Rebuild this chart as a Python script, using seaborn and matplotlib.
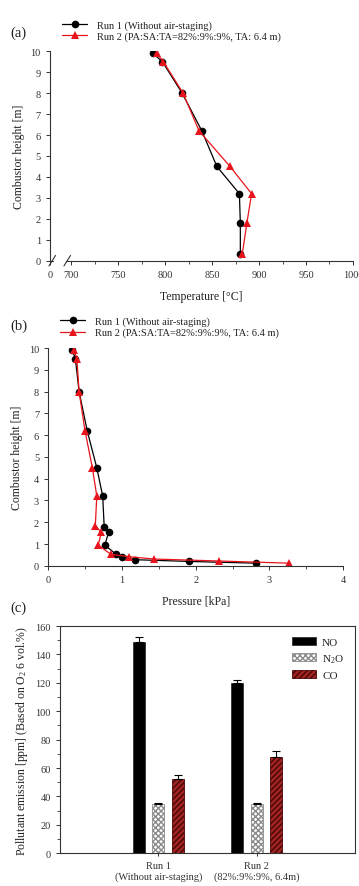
import numpy as np
import pandas as pd
import matplotlib
matplotlib.use("Agg")
import matplotlib.pyplot as plt
from matplotlib.ticker import MultipleLocator, FixedLocator
import seaborn as sns

# Panel (a): temperature profile
temp_height = [9.9, 9.5, 8.0, 6.2, 4.5, 3.2, 1.8, 0.3]
temp_run1 = [787, 797, 818, 839, 855, 879, 880, 880]
temp_run2 = [791, 798, 819, 836, 869, 892, 887, 882]

# Panel (b): pressure profile
pres_height1 = [9.9, 9.5, 8.0, 6.2, 4.5, 3.2, 1.8, 1.55, 0.95, 0.53, 0.4, 0.28, 0.2, 0.12]
pres_run1 = [0.33, 0.37, 0.42, 0.53, 0.66, 0.74, 0.76, 0.82, 0.77, 0.92, 1.0, 1.18, 1.91, 2.82]
pres_height2 = [9.9, 9.5, 8.0, 6.2, 4.5, 3.2, 1.85, 1.53, 0.95, 0.53, 0.42, 0.31, 0.22, 0.12]
pres_run2 = [0.35, 0.39, 0.42, 0.50, 0.60, 0.66, 0.64, 0.72, 0.68, 0.85, 1.09, 1.44, 2.32, 3.27]

run_labels = ["Run 1 (Without air-staging)", "Run 2 (PA:SA:TA=82%:9%:9%, TA: 6.4 m)"]

# Panel (c): emissions
gases = ["NO", "N$_2$O", "CO"]
runs = ["Run 1\n(Without air-staging)", "Run 2\n(82%:9%:9%, 6.4m)"]
emis_no = [149, 120]
emis_n2o = [35, 35]
emis_co = [52, 68]
err_no = [3, 2]
err_n2o = [0.5, 0.5]
err_co = [3, 4]

sns.set_style("ticks")
plt.rcParams['font.family'] = ['Liberation Serif', 'DejaVu Serif']
plt.rcParams['mathtext.fontset'] = 'custom'
plt.rcParams['mathtext.rm'] = 'Liberation Serif'
plt.rcParams['mathtext.it'] = 'Liberation Serif:italic'
ink = '#333333'
plt.rcParams.update({'axes.edgecolor': ink, 'xtick.color': ink, 'ytick.color': ink,
                     'text.color': '#222222', 'axes.labelcolor': '#222222',
                     'axes.linewidth': 0.8, 'xtick.major.size': 3, 'ytick.major.size': 3,
                     'xtick.minor.size': 2, 'ytick.minor.size': 2,
                     'xtick.major.width': 0.7, 'ytick.major.width': 0.7,
                     'xtick.minor.width': 0.6, 'ytick.minor.width': 0.6})

fig = plt.figure(figsize=(3.59, 8.87), dpi=100)
ax_a = fig.add_axes([0.139, 0.705, 0.844, 0.236])
ax_b = fig.add_axes([0.134, 0.361, 0.822, 0.2455])
ax_c = fig.add_axes([0.167, 0.037, 0.822, 0.256])

tick_fs = 7.5
lab_fs = 8.5
leg_fs = 7.5

palette = {run_labels[0]: 'black', run_labels[1]: '#e8141b'}

def profile_df(x1, y1, x2, y2):
    d1 = pd.DataFrame({'x': x1, 'y': y1, 'run': run_labels[0]})
    d2 = pd.DataFrame({'x': x2, 'y': y2, 'run': run_labels[1]})
    return pd.concat([d1, d2], ignore_index=True)

def draw_profile(ax, df):
    sns.lineplot(data=df, x='x', y='y', hue='run', style='run', palette=palette,
                 markers=['o', '^'], dashes=False, sort=False, estimator=None,
                 markersize=5.5, markeredgewidth=0, linewidth=0.9, ax=ax)
    sns.despine(ax=ax)
    ax.set_ylim(0, 10)
    ax.yaxis.set_major_locator(MultipleLocator(1))
    ax.tick_params(labelsize=tick_fs, direction='out')
    ax.set_ylabel('Combustor height [m]', fontsize=lab_fs)
    ax.legend(loc='lower left', bbox_to_anchor=(0.02, 1.02), frameon=False,
              fontsize=leg_fs, handlelength=2.4, borderpad=0.1, labelspacing=0.15,
              handletextpad=0.9)

# (a)
draw_profile(ax_a, profile_df(temp_run1, temp_height, temp_run2, temp_height))
ax_a.set_xlim(677, 1000)
ax_a.xaxis.set_major_locator(FixedLocator([677, 700, 750, 800, 850, 900, 950, 1000]))
ax_a.set_xticklabels(['0', '700', '750', '800', '850', '900', '950', '1000'])
ax_a.xaxis.set_minor_locator(FixedLocator(np.arange(725, 1000, 50)))
ax_a.spines['bottom'].set_bounds(694, 1000)
ax_a.plot([677, 680], [0, 0], color=ink, lw=0.8, clip_on=False)
for xb in (679.5, 695.5):
    ax_a.plot([xb - 3.5, xb + 3.5], [-0.25, 0.25], color=ink, lw=0.8, clip_on=False)
ax_a.set_xlabel('Temperature [°C]', fontsize=lab_fs, labelpad=8)
fig.text(0.03, 0.962, '(a)', fontsize=10.5, va='center')

# (b)
draw_profile(ax_b, profile_df(pres_run1, pres_height1, pres_run2, pres_height2))
ax_b.set_xlim(0, 4)
ax_b.xaxis.set_major_locator(MultipleLocator(1))
ax_b.xaxis.set_minor_locator(MultipleLocator(0.5))
ax_b.set_xlabel('Pressure [kPa]', fontsize=lab_fs, labelpad=8)
fig.text(0.03, 0.632, '(b)', fontsize=10.5, va='center')

# (c)
emis = pd.DataFrame({
    'run': runs * 3,
    'gas': [gases[0]] * 2 + [gases[1]] * 2 + [gases[2]] * 2,
    'value': emis_no + emis_n2o + emis_co,
})
errs = [err_no, err_n2o, err_co]
sns.barplot(data=emis, x='run', y='value', hue='gas', order=runs, hue_order=gases,
            palette=['black', 'white', '#b50f0f'], width=0.6, gap=0.4,
            errorbar=None, edgecolor=ink, linewidth=0.6, ax=ax_c)
hatches = ['', 'xxxxxx', '//////']
hatch_colors = [ink, '#8a8a8a', '#4a0505']
for cont, hatch, hc, err in zip(ax_c.containers, hatches, hatch_colors, errs):
    for patch in cont:
        patch.set_hatch(hatch)
        patch.set_edgecolor(hc)
    xs = [p.get_x() + p.get_width() / 2 for p in cont]
    ys = [p.get_height() for p in cont]
    ax_c.errorbar(xs, ys, yerr=[[0] * len(err), err], fmt='none', ecolor='black',
                  elinewidth=0.8, capsize=3, capthick=0.8)
ax_c.set_xlim(-1, 2)
ax_c.set_ylim(0, 160)
ax_c.yaxis.set_major_locator(MultipleLocator(20))
ax_c.yaxis.set_minor_locator(MultipleLocator(10))
ax_c.tick_params(labelsize=tick_fs, direction='out')
ax_c.tick_params(axis='x', length=2)
ax_c.set_xlabel('')
ax_c.set_ylabel('Pollutant emission [ppm] (Based on O$_2$ 6 vol.%)', fontsize=lab_fs)
for sp in ax_c.spines.values():
    sp.set_visible(True)
handles = [cont.patches[0] for cont in ax_c.containers[:3]]
ax_c.legend(handles, gases, loc='upper right', frameon=False, fontsize=leg_fs + 0.5,
            handlelength=2.2, handleheight=0.75, labelspacing=0.45,
            borderaxespad=0.6, handletextpad=0.5)
fig.text(0.03, 0.314, '(c)', fontsize=10.5, va='center')

fig.savefig('out.png', dpi=100)
